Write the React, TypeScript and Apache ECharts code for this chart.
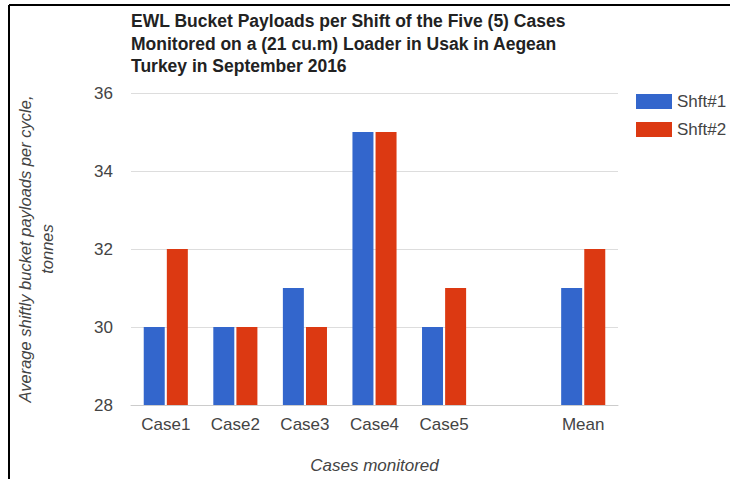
import React, { useEffect, useRef } from "react";
import * as echarts from "echarts";

const categories = ["Case1", "Case2", "Case3", "Case4", "Case5", "", "Mean"];
const shift1 = [30, 30, 31, 35, 30, null, 31];
const shift2 = [32, 30, 30, 35, 31, null, 32];
const seriesNames = ["Shft#1", "Shft#2"];
const titleText =
  "EWL Bucket Payloads per Shift of the Five (5) Cases\nMonitored on a (21 cu.m) Loader in Usak in Aegean\nTurkey in September 2016";
const yAxisName = "Average shiftly bucket payloads per cycle,\ntonnes";
const xAxisName = "Cases monitored";

const FONT = "'Liberation Sans', Arial, sans-serif";

export default function App() {
  const ref = useRef<HTMLDivElement>(null);
  useEffect(() => {
    if (!ref.current) return;
    const chart = echarts.init(ref.current, null, { renderer: "svg" });
    chart.setOption({
      animation: false,
      backgroundColor: "#ffffff",
      textStyle: { fontFamily: FONT },
      title: {
        text: titleText,
        left: 126,
        top: 5,
        textStyle: {
          fontFamily: FONT,
          fontSize: 17.5,
          fontWeight: "bold",
          color: "#222",
          lineHeight: 22.5,
        },
      },
      legend: {
        orient: "vertical",
        left: 631,
        top: 88,
        itemWidth: 36,
        itemHeight: 15,
        itemGap: 11,
        icon: "rect",
        data: seriesNames,
        textStyle: { fontFamily: FONT, fontSize: 17, color: "#444" },
      },
      grid: { left: 131, right: 112, top: 93, bottom: 74 },
      xAxis: {
        type: "category",
        data: categories,
        axisTick: { show: false },
        axisLine: { show: true, lineStyle: { color: "#ccc", width: 1 } },
        axisLabel: { fontFamily: FONT, fontSize: 17, color: "#444", margin: 11, interval: 0 },
        name: xAxisName,
        nameLocation: "middle",
        nameGap: 52,
        nameTextStyle: { fontFamily: FONT, fontSize: 17, color: "#444", fontStyle: "italic" },
      },
      yAxis: {
        type: "value",
        min: 28,
        max: 36,
        interval: 2,
        axisLine: { show: false },
        axisTick: { show: false },
        splitLine: { lineStyle: { color: "#ddd", width: 1 } },
        axisLabel: { fontFamily: FONT, fontSize: 17, color: "#444", margin: 18 },
        name: yAxisName,
        nameLocation: "middle",
        nameRotate: 90,
        nameGap: 73,
        nameTextStyle: {
          fontFamily: FONT,
          fontSize: 16.5,
          color: "#444",
          fontStyle: "italic",
          lineHeight: 22,
          align: "center",
        },
      },
      series: [
        {
          name: seriesNames[0],
          type: "bar",
          data: shift1,
          barWidth: 21,
          barGap: "10%",
          itemStyle: { color: "#3366cc" },
        },
        {
          name: seriesNames[1],
          type: "bar",
          data: shift2,
          barWidth: 21,
          barGap: "10%",
          itemStyle: { color: "#dc3912" },
        },
      ],
      graphic: [
        { type: "line", shape: { x1: 9, y1: 5, x2: 730, y2: 5 }, style: { stroke: "#000", lineWidth: 2 } },
        { type: "line", shape: { x1: 9, y1: 5, x2: 9, y2: 479 }, style: { stroke: "#000", lineWidth: 2 } },
      ],
    });
    return () => chart.dispose();
  }, []);
  return (
    <div
      ref={ref}
      style={{ position: "fixed", left: 0, top: 0, width: 730, height: 479 }}
    />
  );
}
